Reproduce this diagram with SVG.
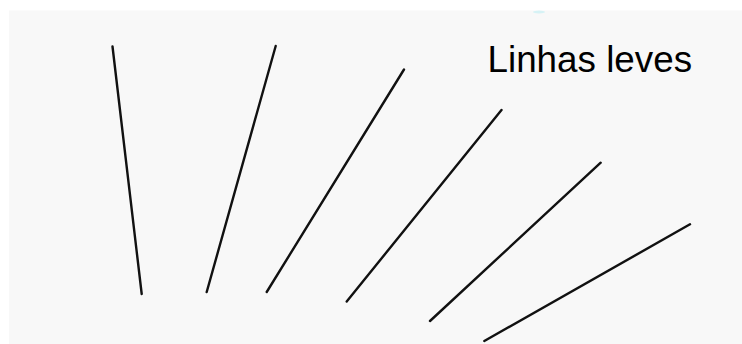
<svg xmlns="http://www.w3.org/2000/svg" width="742" height="344" viewBox="0 0 742 344">
<style>
.ln{stroke:#111;stroke-width:2.4;stroke-linecap:round;fill:none}
.lbl{font-family:"Liberation Sans",Arial,sans-serif;font-size:36.8px;fill:#000}
</style>
<rect x="0" y="0" width="742" height="344" fill="#fff"/>
<rect x="9" y="10.5" width="733" height="333.5" fill="#f8f8f8"/>
<ellipse cx="539" cy="12" rx="6" ry="1.5" fill="#c8f0f4" opacity="0.7"/>
<g id="lines">
<line class="ln" x1="112.5" y1="46.5" x2="141.7" y2="294"/>
<line class="ln" x1="275.7" y1="46" x2="206.7" y2="292"/>
<line class="ln" x1="404" y1="69.5" x2="266.7" y2="292"/>
<line class="ln" x1="501.5" y1="110" x2="346.7" y2="301.5"/>
<line class="ln" x1="600.7" y1="162.7" x2="430" y2="321"/>
<line class="ln" x1="690" y1="224.3" x2="484.3" y2="341"/>
</g>
<g id="label">
<text class="lbl" x="487.5" y="71.7">Linhas leves</text>
</g>
</svg>
